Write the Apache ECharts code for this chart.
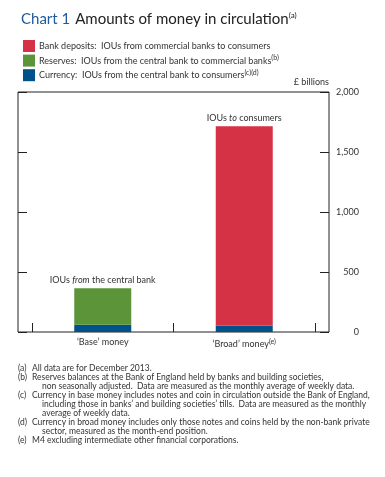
<!DOCTYPE html>
<html><head><meta charset="utf-8">
<script src="https://cdn.jsdelivr.net/npm/echarts@6/dist/echarts.min.js"></script>
<style>html,body{margin:0;padding:0;background:#fff}#c{width:385px;height:477px}</style>
</head><body><div id="c"></div><script>
const categories = ['‘Base’ money', '‘Broad’ money'];
const currency = [60, 55];
const reserves = [305, null];
const deposits = [null, 1660];
const yMin = 0, yMax = 2000, yStep = 500;
const seriesNames = ['Bank deposits', 'Reserves', 'Currency'];
const legendText = {
  'Bank deposits': '{t|Bank deposits:  IOUs from commercial banks to consumers}',
  'Reserves': '{t|Reserves:  IOUs from the central bank to commercial banks}{s|(b)}',
  'Currency': '{t|Currency:  IOUs from the central bank to consumers}{s|(c)(d)}'
};
const footnotes = [
  ['(a)', ['All data are for December 2013.']],
  ['(b)', ['Reserves balances at the Bank of England held by banks and building societies,',
           'non seasonally adjusted.  Data are measured as the monthly average of weekly data.']],
  ['(c)', ['Currency in base money includes notes and coin in circulation outside the Bank of England,',
           'including those in banks’ and building societies’ tills.  Data are measured as the monthly',
           'average of weekly data.']],
  ['(d)', ['Currency in broad money includes only those notes and coins held by the non-bank private',
           'sector, measured as the month-end position.']],
  ['(e)', ['M4 excluding intermediate other financial corporations.']]
];
const colors = { 'Bank deposits': '#d63246', 'Reserves': '#5b9439', 'Currency': '#00518a' };
const FONT = 'Lato';
const TXT = '#333';

const chart = echarts.init(document.getElementById('c'));
const fnGraphics = [];
let fy = 368.5;
footnotes.forEach(([mark, lines]) => {
  fnGraphics.push({type:'text', left:18, top:fy-5, style:{text:mark, font:'8.5px '+FONT, fill:TXT}});
  lines.forEach((ln, i) => {
    fnGraphics.push({type:'text', left: i===0 ? 32 : 42, top: fy-5, style:{text:ln, font:'8.5px '+FONT, fill:TXT}});
    fy += 9.05;
  });
});

const supRich = {
  t: {fontSize: 9, fontFamily: FONT, color: TXT},
  s: {fontSize: 7, fontFamily: FONT, color: TXT, padding: [0,0,5,0]}
};
const labRich = {
  a: {fontSize: 9, fontFamily: FONT, color: TXT},
  i: {fontSize: 9, fontFamily: FONT, color: TXT, fontStyle: 'italic'}
};

chart.setOption({
  animation: false,
  title: {
    left: 16, top: 5,
    text: '{c|Chart 1} {m|Amounts of money in circulation}{s|(a)}',
    textStyle: { fontWeight: 'normal', rich: {
      c: {fontSize: 15, fontFamily: FONT, color: '#1f5a9a', fontWeight: 'normal'},
      m: {fontSize: 15, fontFamily: FONT, color: '#222', fontWeight: 'normal'},
      s: {fontSize: 8, fontFamily: FONT, color: '#222', fontWeight: 'normal', padding:[0,0,8,0]}
    }}
  },
  legend: {
    orient: 'vertical', left: 18, top: 35, itemWidth: 12, itemHeight: 12, itemGap: 2.6,
    data: seriesNames, selectedMode: false, icon: 'rect',
    formatter: n => legendText[n],
    textStyle: { rich: supRich, padding: [0,0,0,-1] }
  },
  grid: [
    {left: 18, right: 56, top: 92, bottom: 145, show: true, borderColor: '#222', borderWidth: 1},
    {left: 32, right: 70, top: 92, bottom: 145}
  ],
  xAxis: [
    {gridIndex: 0, type: 'value', show: false},
    {gridIndex: 1, type: 'category', data: categories,
     axisLine: {show: false},
     axisTick: {show: true, inside: true, length: 9, lineStyle: {color: '#222'}},
     axisLabel: {margin: 6, color: TXT, fontFamily: FONT, fontSize: 9,
       formatter: v => v.indexOf('Broad') >= 0 ? '{t|' + v + '}{s|(e)}' : '{t|' + v + '}',
       rich: supRich}}
  ],
  yAxis: [
    {gridIndex: 0, type: 'value', position: 'left', min: yMin, max: yMax, interval: yStep,
     splitLine: {show: false}, axisLine: {show: false}, axisLabel: {show: false},
     axisTick: {show: true, inside: true, length: 9, lineStyle: {color: '#222'}}},
    {gridIndex: 0, type: 'value', position: 'right', min: yMin, max: yMax, interval: yStep,
     splitLine: {show: false}, axisLine: {show: false},
     axisTick: {show: true, inside: true, length: 9, lineStyle: {color: '#222'}},
     axisLabel: {align: 'right', margin: 30, color: TXT, fontFamily: FONT, fontSize: 9,
       formatter: v => v.toLocaleString('en-GB')}},
    {gridIndex: 1, type: 'value', min: yMin, max: yMax, show: false}
  ],
  series: [
    {name: 'Currency', type: 'bar', stack: 's', xAxisIndex: 1, yAxisIndex: 2, barWidth: 57,
     itemStyle: {color: colors['Currency']}, data: currency},
    {name: 'Reserves', type: 'bar', stack: 's', xAxisIndex: 1, yAxisIndex: 2, barWidth: 57,
     itemStyle: {color: colors['Reserves']}, data: reserves,
     label: {show: true, position: 'top', distance: 4,
       formatter: p => p.value == null ? '' : '{a|IOUs }{i|from}{a| the central bank}', rich: labRich}},
    {name: 'Bank deposits', type: 'bar', stack: 's', xAxisIndex: 1, yAxisIndex: 2, barWidth: 57,
     itemStyle: {color: colors['Bank deposits']}, data: deposits,
     label: {show: true, position: 'top', distance: 4,
       formatter: p => p.value == null ? '' : '{a|IOUs }{i|to}{a| consumers}', rich: labRich}}
  ],
  graphic: [
    {type: 'text', right: 56, top: 78, style: {text: '£ billions', font: '9px ' + FONT, fill: TXT}}
  ].concat(fnGraphics)
});
</script></body></html>
